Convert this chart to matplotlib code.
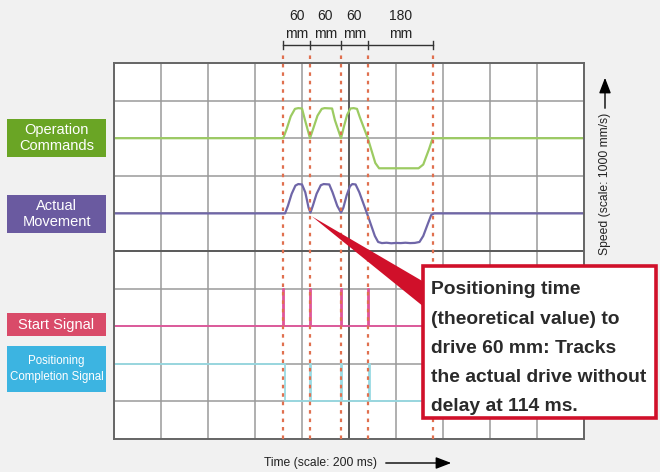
import matplotlib
matplotlib.use("Agg")
import matplotlib.pyplot as plt
import matplotlib.transforms as mtrans
from matplotlib.patches import Rectangle, Polygon, FancyArrowPatch
import numpy as np

plt.rcParams['font.family'] = ['Liberation Sans', 'DejaVu Sans']

# ---------------- data ----------------
# time in ms (1 division = 200 ms), speed in mm/s (1 division = 1000 mm/s)
cmd_t = [0, 720, 735, 752, 770, 784, 800, 812, 834, 848, 866, 884, 896, 928, 940, 966, 978, 992,
         1006, 1020, 1034, 1046, 1080, 1112, 1128, 1296, 1316, 1340, 1356, 2000]
cmd_v = [0, 0, 250, 580, 780, 800, 790, 500, 0, 260, 600, 780, 800, 790, 480, 0, 300, 620,
         790, 800, 780, 560, 0, -660, -800, -800, -700, -300, 0, 0]

act_t = [0, 728, 740, 756, 772, 784, 800, 814, 828, 836, 846, 862, 880, 892, 916, 930, 950, 966,
         976, 990, 1004, 1014, 1028, 1044, 1080, 1110, 1124, 1140, 1160, 1180, 1200, 1220, 1240,
         1260, 1280, 1300, 1316, 1334, 1350, 1362, 2000]
act_v = [0, 0, 200, 520, 740, 780, 770, 560, 150, 20, 200, 520, 750, 780, 770, 560, 200, 20,
         150, 480, 720, 780, 770, 560, -60, -600, -760, -790, -780, -795, -785, -790, -780,
         -790, -785, -760, -600, -300, -40, 0, 0]

start_pulses = [720, 834, 966, 1080]          # start signal pulses (ms)
comp_off, comp_on = 728, 1356                  # completion signal off / on (ms)
comp_pulses = [834, 966, 1085]                 # completion pulses (ms)

bounds_ms = [720, 834, 966, 1080, 1356]        # dashed markers
dist_labels = ["60\nmm", "60\nmm", "60\nmm", "180\nmm"]

row_labels = ["Operation\nCommands", "Actual\nMovement", "Start Signal",
              "Positioning\nCompletion Signal"]
row_colors = ["#6aa525", "#6a5aa0", "#d94b69", "#3cb4e1"]
callout_lines = ["Positioning time", "(theoretical value) to", "drive 60 mm: Tracks",
                 "the actual drive without", "delay at 114 ms."]

# baselines (in divisions)
cmd_base, act_base, start_base, comp_base = 8, 6, 3, 2

W, H = 660, 472
fig = plt.figure(figsize=(W / 100, H / 100), dpi=100)
fig.patch.set_facecolor("#f1f1f1")

def fx(px):
    return px / W

def fy(py):
    return 1 - py / H

L, R, T, B = 114, 584, 63, 439
ax = fig.add_axes([fx(L), fy(B), (R - L) / W, (B - T) / H])
ax.set_facecolor("white")
ax.set_xlim(0, 2000)
ax.set_ylim(0, 10)
ax.set_xticks(np.arange(0, 2001, 200))
ax.set_yticks(np.arange(0, 11, 1))
ax.tick_params(length=0, labelbottom=False, labelleft=False)
ax.grid(True, color="#9a9a9a", lw=1.1)
ax.set_axisbelow(True)
ax.axvline(1000, color="#555555", lw=1.3, zorder=1)
ax.axhline(5, color="#555555", lw=1.3, zorder=1)
for s in ax.spines.values():
    s.set_color("#666666")
    s.set_linewidth(1.4)

# traces
ax.plot(cmd_t, cmd_base + np.array(cmd_v) / 1000, color="#9ccb62", lw=1.6, zorder=2)
ax.plot(act_t, act_base + np.array(act_v) / 1000, color="#6f66a8", lw=1.6, zorder=2)

# start signal
st_t, st_v = [0], [0]
for p in start_pulses:
    st_t += [p, p, p + 4, p + 4]
    st_v += [0, 1, 1, 0]
st_t.append(2000); st_v.append(0)
ax.plot(st_t, start_base + np.array(st_v), color="#e0559a", lw=1.3, zorder=2)

# completion signal
cp_t, cp_v = [0, comp_off, comp_off], [0, 0, -1]
for p in comp_pulses:
    cp_t += [p, p, p + 5, p + 5]
    cp_v += [-1, 0, 0, -1]
cp_t += [comp_on, comp_on, 2000]
cp_v += [-1, 0, 0]
ax.plot(cp_t, comp_base + np.array(cp_v), color="#98dae3", lw=1.3, zorder=2)

# dashed markers
bl = mtrans.blended_transform_factory(ax.transData, ax.transAxes)
top_frac = (B - 55) / (B - T)
for b in bounds_ms:
    ax.plot([b, b], [0, top_frac], transform=bl, clip_on=False, color="#e0704f",
            lw=1.6, ls=(0, (1.6, 2.2)), zorder=3)

# dimension bracket
bf = mtrans.blended_transform_factory(ax.transData, fig.transFigure)
ax.plot([bounds_ms[0], bounds_ms[-1]], [fy(45), fy(45)], transform=bf, clip_on=False,
        color="#333333", lw=1.0)
for b in bounds_ms:
    ax.plot([b, b], [fy(41), fy(49)], transform=bf, clip_on=False, color="#333333", lw=1.0)
for i, lab in enumerate(dist_labels):
    xm = (bounds_ms[i] + bounds_ms[i + 1]) / 2
    ax.text(xm, fy(25), lab, transform=bf, ha="center", va="center", fontsize=10,
            color="#222222", linespacing=1.3)

# left labels
boxes = [(119, 157), (195, 233), (313, 336), (346, 392)]
sizes = [10.5, 10.5, 10.5, 8.3]
spacing = [1.2, 1.2, 1.2, 1.35]
for (y0, y1), lab, col, fs, ls in zip(boxes, row_labels, row_colors, sizes, spacing):
    fig.add_artist(Rectangle((fx(7), fy(y1)), fx(106) - fx(7), fy(y0) - fy(y1),
                             transform=fig.transFigure, facecolor=col, edgecolor="none"))
    fig.text(fx(56.5), fy((y0 + y1) / 2), lab, ha="center", va="center", color="white",
             fontsize=fs, linespacing=ls)

# callout wedge
tip = fig.transFigure.inverted().transform(ax.transData.transform((842, 5.92)))
wedge = Polygon([tip, (fx(424), fy(282)), (fx(424), fy(307))], closed=True,
                transform=fig.transFigure, facecolor="#d0102a", edgecolor="none")
fig.add_artist(wedge)

# callout box
fig.add_artist(Rectangle((fx(423), fy(418)), fx(656) - fx(423), fy(266) - fy(418),
                         transform=fig.transFigure, facecolor="white",
                         edgecolor="#d0102a", lw=2.6))
for i, line in enumerate(callout_lines):
    fig.text(fx(431), fy(290 + 29.2 * i), line, ha="left", va="center", fontsize=13.9,
             fontweight="bold", color="#2a2a2a")

# axis titles with arrows
arrow_style = "-|>,head_length=5.2,head_width=2.0"
fig.text(fx(320), fy(463), "Time (scale: 200 ms)", ha="center", va="center", fontsize=8.7,
         color="#222222")
fig.add_artist(FancyArrowPatch((fx(383), fy(463)), (fx(454), fy(463)),
                               transform=fig.transFigure, arrowstyle=arrow_style,
                               color="black", lw=1.0, mutation_scale=1.8))
fig.text(fx(605), fy(184), "Speed (scale: 1000 mm/s)", ha="center", va="center",
         rotation=90, fontsize=8.7, color="#222222")
fig.add_artist(FancyArrowPatch((fx(605), fy(111)), (fx(605), fy(75)),
                               transform=fig.transFigure, arrowstyle=arrow_style,
                               color="black", lw=1.0, mutation_scale=1.8))

fig.savefig("out.png", dpi=100, facecolor=fig.get_facecolor())
